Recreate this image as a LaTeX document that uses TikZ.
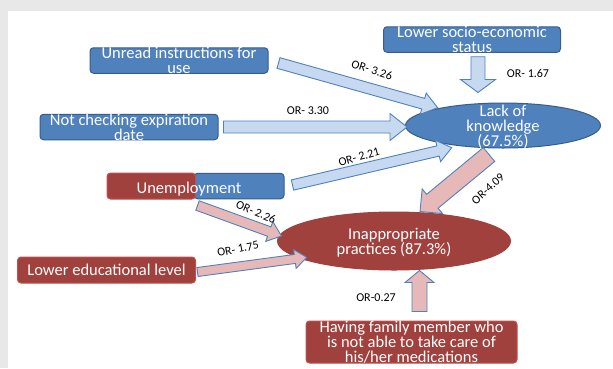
\documentclass[tikz,border=0pt]{standalone}
\usepackage{fontspec}
\setmainfont{Carlito}
\usepackage{array}
\usetikzlibrary{calc, shapes.geometric}

\definecolor{boxblue}{HTML}{4F81BD}
\definecolor{boxblueline}{HTML}{385D8A}
\definecolor{boxred}{HTML}{A0413E}
\definecolor{boxredline}{HTML}{C0504D}
\definecolor{arrowblue}{HTML}{C6D9F1}
\definecolor{arrowpink}{HTML}{E6B9B8}
\definecolor{arrowline}{HTML}{4F81BD}
\definecolor{pagegray}{HTML}{E8E8E8}

% centred lines, 15pt apart, that may run over the box edge
\newbox\celllinebox
\newcolumntype{C}{>{\setbox\celllinebox=\hbox\bgroup}c<{\egroup\ht\celllinebox=0pt\dp\celllinebox=0pt\box\celllinebox}}
\newcommand{\celltext}[1]{\smash{\raisebox{-7pt}{\begin{tabular}{@{}C@{}}#1\end{tabular}}}}
% wide outlined arrow: [style]{from}{to}{shaft}{head width}{head length}
\newcommand{\blockarrow}[6][]{%
  \draw[#1] let \p1=#2, \p2=#3,
      \n1={atan2(\y2-\y1,\x2-\x1)}, \n2={veclen(\x2-\x1,\y2-\y1)} in
    [shift={(\p1)}, rotate=\n1]
    (0pt,{#4pt/2}) -- ({\n2-#6pt},{#4pt/2}) -- ({\n2-#6pt},{#5pt/2})
    -- (\n2,0pt) -- ({\n2-#6pt},{-#5pt/2}) -- ({\n2-#6pt},{-#4pt/2})
    -- (0pt,{-#4pt/2}) -- cycle;}

\begin{document}
\begin{tikzpicture}[x=1pt, y=-1pt, font=\fontsize{16.5}{15}\selectfont,
    bluebox/.style={draw=boxblueline, fill=boxblue, line width=1pt, rounded corners=3.5pt,
                    text=white, inner sep=0pt, minimum height=25.5pt},
    redbox/.style={draw=boxredline, fill=boxred, line width=1pt, rounded corners=3.5pt,
                   text=white, inner sep=0pt, minimum height=26pt},
    blueoval/.style={ellipse, draw=boxblueline, fill=boxblue, line width=1pt,
                     text=white, inner sep=0pt},
    redoval/.style={ellipse, draw=boxred, fill=boxred, line width=1pt,
                    text=white, inner sep=0pt},
    orlabel/.style={font=\fontsize{12}{12}\selectfont, inner sep=0pt},
    bluearrow/.style={draw=arrowline, fill=arrowblue, line width=0.9pt},
    pinkarrow/.style={draw=arrowline, fill=arrowpink, line width=0.9pt}]
    % page
    \fill[pagegray] (0,0) rectangle (613,368);
    \fill[white] (8,11) rectangle (613,368);
    \useasboundingbox (0,0) rectangle (613,368);

    % factors and outcomes
    \node[bluebox, minimum width=178pt] (unread) at (179,60.5) {\celltext{Unread instructions for\\use}};
    \node[bluebox, minimum width=177pt] (socio) at (472,39.5) {\celltext{Lower socio-economic\\status}};
    \node[bluebox, minimum width=178pt] (notcheck) at (129,127) {\celltext{Not checking expiration\\date}};
    \node[blueoval, minimum width=195pt, minimum height=45pt] (lack) at (503,125.5)
        {\celltext{Lack of\\knowledge\\(67.5\%)}};
    \node[bluebox, minimum width=90pt] (unempb) at (239,186) {};
    \node[redbox, minimum width=88.5pt] (unempr) at (151.25,186) {};
    \node[inner sep=0pt, text=white] (unemp) at (189,187.5) {\celltext{Unemployment}};
    \node[redoval, minimum width=233pt, minimum height=58pt] (inap) at (394,241)
        {\celltext{Inappropriate\\practices (87.3\%)}};
    \node[redbox, minimum width=178pt] (edu) at (106.5,270) {\celltext{Lower educational level}};
    \node[redbox, minimum width=211pt, minimum height=42pt] (family) at (411.5,342)
        {\celltext{Having family member who\\is not able to take care of\\his/her medications}};

    % arrows into lack of knowledge
    \blockarrow[bluearrow]{([shift={(10,2.5)}]unread.east)}{([shift={(4,-1.5)}]lack.north west)}{11}{22}{15}
    \blockarrow[bluearrow]{([shift={(5,0)}]notcheck.east)}{([shift={(2,1.5)}]lack.west)}{12}{27}{17}
    \blockarrow[bluearrow]{([shift={(8,-1)}]unempb.east)}{([shift={(18,6)}]lack.south west)}{10.5}{22}{14}
    \blockarrow[bluearrow]{([shift={(6,4)}]socio.south)}{([shift={(-25,-10)}]lack.north)}{14}{35}{13}

    % arrows into inappropriate practices
    \blockarrow[pinkarrow]{([shift={(-14,6)}]lack.south)}{([shift={(26,0)}]inap.north)}{18}{32}{16}
    \blockarrow[pinkarrow]{([shift={(1.5,6)}]unempr.south east)}{([shift={(4.5,-5)}]inap.west)}{10}{21}{13}
    \blockarrow[pinkarrow]{([shift={(1.5,2)}]edu.east)}{([shift={(-4.5,-4.5)}]inap.south west)}{9}{19}{12}
    \blockarrow[pinkarrow]{([shift={(8,-9)}]family.north)}{([shift={(25.5,0)}]inap.south)}{15}{29}{12}

    % odds ratios
    \node[orlabel, rotate=-18] (or1) at (372,70) {OR- 3.26};
    \node[orlabel] (or2) at (308,111) {OR- 3.30};
    \node[orlabel, rotate=16] (or3) at (359,157) {OR- 2.21};
    \node[orlabel] (or4) at (528,73) {OR- 1.67};
    \node[orlabel, rotate=42] (or5) at (488,189) {OR-4.09};
    \node[orlabel, rotate=-23] (or6) at (256,212) {OR- 2.26};
    \node[orlabel, rotate=11] (or7) at (238,249) {OR- 1.75};
    \node[orlabel] (or8) at (376,298) {OR-0.27};
\end{tikzpicture}
\end{document}
